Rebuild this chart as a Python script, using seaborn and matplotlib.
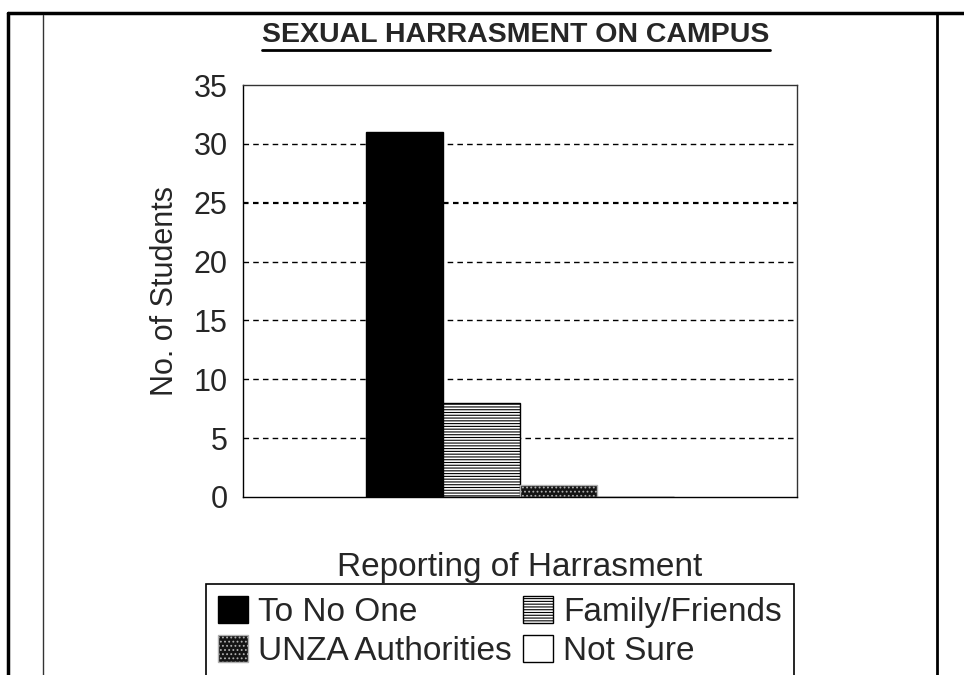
import matplotlib.pyplot as plt
import seaborn as sns
import pandas as pd
from matplotlib import font_manager
from matplotlib.lines import Line2D
from matplotlib.patches import Patch

# data
responses = ["To No One", "Family/Friends", "UNZA Authorities", "Not Sure"]
students = [31, 8, 1, 0]
question = ["Reporting of Harrasment"] * len(responses)
y_ticks = [0, 5, 10, 15, 20, 25, 30, 35]

face_colors = ["black", "white", "#141414", "white"]
edge_colors = ["black", "black", "#b0b0b0", "black"]
hatches = ["", "------", "....", ""]

sns.set_style("white")
plt.rcParams["font.family"] = ["Liberation Sans", "DejaVu Sans"]
plt.rcParams["hatch.linewidth"] = 0.8

df = pd.DataFrame({"question": question, "response": responses, "students": students})

fig = plt.figure(figsize=(9.64, 6.75), dpi=100)
ax = fig.add_axes([243 / 964, 1 - 497 / 675, 554 / 964, 412 / 675])

sns.barplot(data=df, x="question", y="students", hue="response", hue_order=responses,
            palette=dict(zip(responses, face_colors)), saturation=1, width=0.555,
            edgecolor="black", linewidth=1, legend=False, ax=ax)

for cont, h, ec in zip(ax.containers, hatches, edge_colors):
    for p in cont:
        p.set_hatch(h)
        p.set_edgecolor(ec)

ax.set_ylim(0, 35)
ax.set_xlim(-0.5, 0.5)
ax.set_yticks(y_ticks)
for t in y_ticks[1:-1]:
    ax.axhline(t, color="black", lw=1.6 if t == 25 else 1.0,
               ls=(0, (2.5, 2)) if t == 25 else (0, (4, 3)), zorder=0.5)
ax.set_xticks([-0.5, 0.5])
ax.set_xticklabels(["", ""])
ax.tick_params(axis="y", direction="inout", length=10, width=1, labelsize=22, pad=6)
ax.tick_params(axis="x", direction="out", length=8, width=1)

for s in ax.spines.values():
    s.set_color("#333333")
    s.set_linewidth(1)
    s.set_visible(True)
ax.spines["left"].set_color("black")
ax.spines["bottom"].set_color("black")

ax.set_ylabel("No. of Students", fontsize=22)
ax.yaxis.label.set_va("center")
ax.yaxis.set_label_coords(-0.14, 0.5)
ax.set_xlabel("Reporting of Harrasment", fontsize=24)
ax.xaxis.label.set_va("center")
ax.xaxis.set_label_coords(0.5, -0.17)

# legend fills row by row in the original
order = [0, 2, 1, 3]
handles = [Patch(facecolor=face_colors[i], edgecolor=edge_colors[i], hatch=hatches[i])
           for i in order]
leg = fig.legend(handles, [responses[i] for i in order], ncol=2, loc="upper left",
                 bbox_to_anchor=(206 / 964, 1 - 584 / 675), fontsize=24,
                 frameon=True, fancybox=False, edgecolor="black", framealpha=1,
                 handlelength=0.9, handleheight=0.9, handletextpad=0.3,
                 columnspacing=0.35, borderpad=0.35, labelspacing=0.2,
                 borderaxespad=0)
leg.get_frame().set_linewidth(1.2)

names = {f.name for f in font_manager.fontManager.ttflist}
if "Liberation Sans Narrow" in names:
    title_font, title_size = ["Liberation Sans Narrow", "Liberation Sans"], 24
else:
    title_font, title_size = ["Liberation Sans", "DejaVu Sans"], 20.5
title = fig.text(516 / 964, 1 - 35 / 675, "SEXUAL HARRASMENT ON CAMPUS",
                 ha="center", va="center", fontsize=title_size, fontweight="bold",
                 family=title_font)
fig.canvas.draw()
bb = title.get_window_extent().transformed(fig.transFigure.inverted())
fig.add_artist(Line2D([bb.x0, bb.x1], [bb.y0 - 0.003, bb.y0 - 0.003], color="black", lw=2))

# outer frame of the scanned page
fig.add_artist(Line2D([8 / 964, 1], [1 - 13 / 675, 1 - 13 / 675], color="black", lw=2.5))
fig.add_artist(Line2D([8 / 964, 8 / 964], [0, 1 - 13 / 675], color="black", lw=2.5))
fig.add_artist(Line2D([43 / 964, 43 / 964], [0, 1 - 15 / 675], color="#333333", lw=1))
fig.add_artist(Line2D([937 / 964, 937 / 964], [0, 1 - 13 / 675], color="black", lw=2))

fig.savefig("out.png", dpi=100)
